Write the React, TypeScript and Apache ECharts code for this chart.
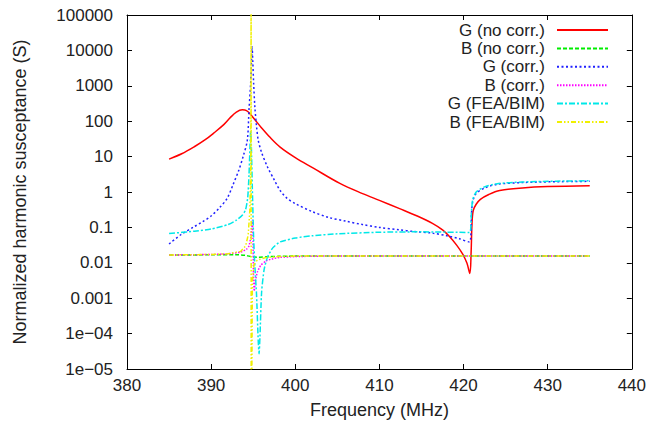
import React, { useEffect, useRef } from "react";
import * as echarts from "echarts";

const FONT = "'Liberation Sans', Arial, Helvetica, sans-serif";
const TEXT = "#222222";

const seriesNames = [
  "G (no corr.)",
  "B (no corr.)",
  "G (corr.)",
  "B (corr.)",
  "G (FEA/BIM)",
  "B (FEA/BIM)",
];
const seriesColors = ["#ff0000", "#00ee00", "#2020ff", "#ff00ff", "#00e8e8", "#f0f000"];
const seriesDash: (string | number[])[] = ["solid", [4, 2], [2, 2.5], [1.5, 1.5], [6, 2, 2, 2], [5, 2, 1.5, 2, 1.5, 2]];
const seriesSmooth = [0.35, 0.3, 0.3, 0.15, 0.2, 0];

const yTickLabels = ["1e\u221205", "1e\u221204", "0.001", "0.01", "0.1", "1", "10", "100", "1000", "10000", "100000"];

// [frequency MHz, value S]
const gNoCorr = [
  [385, 8.5], [386.5, 12], [388, 19], [389.3, 30], [390.3, 46], [391.5, 80], [392.3, 128], [393, 180],
  [393.7, 209], [394.2, 200], [394.7, 155], [395.3, 103], [395.9, 69], [397, 35], [398.2, 18.6], [400, 9.4],
  [402.1, 4.8], [405.3, 1.75], [408, 0.9], [410, 0.58], [412.4, 0.34], [414.5, 0.21], [416.3, 0.13],
  [417.5, 0.085], [418.3, 0.056], [419.2, 0.031], [419.9, 0.0175], [420.4, 0.0098], [420.75, 0.005],
  [420.9, 0.02], [421, 0.12], [421.15, 0.3], [421.5, 0.45], [422, 0.62], [423, 0.85], [424.3, 1.1],
  [427, 1.3], [430, 1.42], [435, 1.5],
];
const bNoCorr = [
  [385, 0.0166], [390, 0.0168], [393, 0.017], [394, 0.0163], [394.6, 0.0152], [395.2, 0.0145],
  [395.8, 0.0144], [396.6, 0.0148], [398, 0.0152], [400, 0.0155], [410, 0.0156], [420, 0.0156],
  [421, 0.0155], [435, 0.0155],
];
const gCorr = [
  [385, 0.034], [386.4, 0.062], [388, 0.105], [389, 0.145], [390, 0.21], [391, 0.36], [391.9, 0.66],
  [392.6, 1.6], [393.3, 4.2], [393.8, 10], [394.3, 29], [394.5, 210], [394.7, 1200], [394.8, 5000],
  [394.87, 12600], [394.95, 5000], [395.05, 1200], [395.2, 250], [395.4, 70], [395.6, 29], [396, 13],
  [396.7, 5.1], [397.5, 2.2], [398.2, 1.1], [399, 0.67], [400, 0.47], [402, 0.28], [404, 0.19],
  [406, 0.15], [408, 0.12], [410, 0.1], [412.4, 0.085], [414, 0.077], [416.3, 0.069], [418, 0.058],
  [419.5, 0.048], [420.7, 0.039], [420.85, 0.05], [420.95, 0.25], [421.1, 0.55], [421.5, 0.9],
  [422.5, 1.3], [424, 1.65], [427, 1.85], [431, 1.95], [435, 2.0],
];
const bCorr = [
  [385, 0.0166], [390, 0.0172], [392, 0.018], [393.5, 0.02], [394.2, 0.024], [394.5, 0.03], [394.7, 0.05],
  [394.82, 0.1], [394.9, 0.16], [394.97, 0.05], [395.03, 0.005], [395.12, 0.0016], [395.25, 0.003],
  [395.5, 0.0055], [395.9, 0.0085], [396.5, 0.0112], [397.2, 0.0128], [398.2, 0.0142], [400, 0.015],
  [405, 0.0156], [435, 0.0155],
];
const gFea = [
  [385, 0.067], [388, 0.078], [390, 0.09], [392, 0.12], [393, 0.16], [393.7, 0.22], [394.1, 0.32],
  [394.35, 0.7], [394.5, 3], [394.62, 20], [394.7, 55], [394.78, 20], [394.9, 1.2], [395.05, 0.05],
  [395.2, 0.008], [395.4, 0.0012], [395.6, 0.00006], [395.7, 0.000027], [395.8, 0.00008], [396, 0.0015],
  [396.3, 0.0065], [396.7, 0.0145], [397.3, 0.026], [398.2, 0.039], [400, 0.05], [402, 0.058],
  [405, 0.066], [410, 0.073], [415, 0.075], [420.7, 0.072], [420.85, 0.09], [420.95, 0.3], [421.1, 0.62],
  [421.5, 1.0], [422.5, 1.4], [424, 1.72], [427, 1.92], [431, 2.02], [435, 2.08],
];
const bFea = [
  [385, 0.0166], [390, 0.0172], [392, 0.018], [393.5, 0.021], [394.1, 0.03], [394.4, 0.06], [394.6, 0.3],
  [394.7, 5], [394.74, 1000], [394.75, 1e7], [394.76, 1e-8], [394.82, 1e-6], [394.9, 0.003],
  [395.1, 0.009], [395.5, 0.012], [396.5, 0.014], [398, 0.015], [400, 0.0155], [410, 0.0156],
  [435, 0.0155],
];

const seriesData = [gNoCorr, bNoCorr, gCorr, bCorr, gFea, bFea];

export default function App() {
  const ref = useRef<HTMLDivElement>(null);
  useEffect(() => {
    const chart = echarts.init(ref.current!, null, { renderer: "svg" });
    const axisLine = { show: true, lineStyle: { color: "#000", width: 1 } };
    const axisTick = { show: true, inside: true, length: 5, lineStyle: { color: "#000", width: 1 } };
    const labelStyle = { fontFamily: FONT, fontSize: 17, color: TEXT };
    const nameStyle = { fontFamily: FONT, fontSize: 18, color: TEXT };
    const yFormatter = (v: number) => {
      const e = Math.round(Math.log10(v));
      return yTickLabels[e + 5] ?? "";
    };
    const legends = seriesNames.map((n, i) => ({
      data: [n],
      right: 40,
      top: 30 + 18.4 * i - 8.5,
      orient: "horizontal",
      align: "right",
      itemWidth: 51,
      itemHeight: 17,
      padding: 0,
      itemGap: 0,
      selectedMode: false,
      textStyle: { ...labelStyle, padding: [0, 7, 0, 0], lineHeight: 17 },
      itemStyle: { color: "transparent", borderWidth: 0, borderColor: "transparent" },
    }));
    chart.setOption({
      animation: false,
      backgroundColor: "#ffffff",
      grid: { left: 127, right: 16, top: 15, bottom: 61, containLabel: false },
      legend: legends,
      xAxis: [
        {
          type: "value",
          min: 380,
          max: 440,
          interval: 10,
          position: "bottom",
          axisLine,
          axisTick,
          splitLine: { show: false },
          axisLabel: { ...labelStyle, margin: 8 },
          name: "Frequency (MHz)",
          nameLocation: "middle",
          nameGap: 32,
          nameTextStyle: nameStyle,
        },
        {
          type: "value",
          min: 380,
          max: 440,
          interval: 10,
          position: "top",
          axisLine,
          axisTick,
          splitLine: { show: false },
          axisLabel: { show: false },
        },
      ],
      yAxis: [
        {
          type: "log",
          logBase: 10,
          min: 1e-5,
          max: 1e5,
          interval: 1,
          position: "left",
          axisLine,
          axisTick,
          minorTick: { show: false },
          splitLine: { show: false },
          axisLabel: { ...labelStyle, margin: 14, formatter: yFormatter },
          name: "Normalized harmonic susceptance (S)",
          nameLocation: "middle",
          nameGap: 98,
          nameTextStyle: nameStyle,
        },
        {
          type: "log",
          logBase: 10,
          min: 1e-5,
          max: 1e5,
          interval: 1,
          position: "right",
          axisLine,
          axisTick,
          splitLine: { show: false },
          axisLabel: { show: false },
        },
      ],
      series: seriesNames.map((n, i) => ({
        name: n,
        type: "line",
        xAxisIndex: 0,
        yAxisIndex: 0,
        data: seriesData[i],
        symbol: "none",
        showSymbol: false,
        clip: true,
        smooth: seriesSmooth[i],
        color: seriesColors[i],
        lineStyle: { color: seriesColors[i], width: 1.5, type: seriesDash[i] },
        emphasis: { disabled: true },
      })),
    });
    return () => chart.dispose();
  }, []);
  return <div ref={ref} style={{ position: "absolute", left: 0, top: 0, width: 649, height: 430 }} />;
}
